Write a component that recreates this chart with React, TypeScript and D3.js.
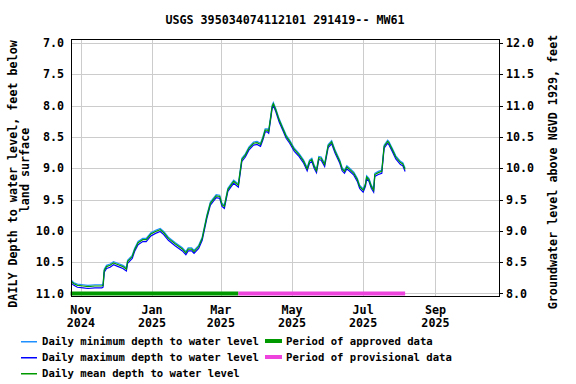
import * as d3 from "d3";

const dates = [
  "2024-10-24", "2024-10-26", "2024-10-29", "2024-11-03", "2024-11-07", "2024-11-13", "2024-11-19", "2024-11-20", "2024-11-21", "2024-11-23", "2024-11-26", "2024-11-29", "2024-12-03", "2024-12-07", "2024-12-10", "2024-12-11", "2024-12-15", "2024-12-17", "2024-12-20", "2024-12-24", "2024-12-27", "2024-12-31",
  "2025-01-04", "2025-01-08", "2025-01-11", "2025-01-15", "2025-01-21", "2025-01-27", "2025-01-30", "2025-02-01", "2025-02-04", "2025-02-06", "2025-02-10", "2025-02-13", "2025-02-17", "2025-02-20", "2025-02-25", "2025-02-28",
  "2025-03-02", "2025-03-04", "2025-03-07", "2025-03-10", "2025-03-12", "2025-03-16", "2025-03-17", "2025-03-19", "2025-03-22", "2025-03-25", "2025-03-29",
  "2025-04-01", "2025-04-04", "2025-04-06", "2025-04-08", "2025-04-10", "2025-04-11", "2025-04-13", "2025-04-14", "2025-04-15", "2025-04-17", "2025-04-20", "2025-04-23", "2025-04-26", "2025-04-29",
  "2025-05-03", "2025-05-07", "2025-05-11", "2025-05-14", "2025-05-16", "2025-05-18", "2025-05-20", "2025-05-22", "2025-05-24", "2025-05-26", "2025-05-29",
  "2025-06-01", "2025-06-04", "2025-06-07", "2025-06-11", "2025-06-13", "2025-06-15", "2025-06-17", "2025-06-19", "2025-06-23", "2025-06-26", "2025-06-28",
  "2025-07-01", "2025-07-03", "2025-07-04", "2025-07-06", "2025-07-08", "2025-07-10", "2025-07-11", "2025-07-14", "2025-07-17", "2025-07-19", "2025-07-22", "2025-07-23", "2025-07-26", "2025-07-29",
  "2025-08-02", "2025-08-04", "2025-08-06",
];

const minDepth = [
  10.79, 10.83, 10.85, 10.86, 10.87, 10.86, 10.86, 10.85, 10.61, 10.55, 10.53, 10.49, 10.52, 10.55, 10.59, 10.47, 10.39, 10.28, 10.17, 10.12, 10.12, 10.03,
  9.99, 9.96, 10.01, 10.1, 10.19, 10.27, 10.33, 10.27, 10.27, 10.31, 10.23, 10.1, 9.75, 9.54, 9.42, 9.43,
  9.56, 9.59, 9.32, 9.24, 9.19, 9.25, 9.11, 8.84, 8.77, 8.66, 8.58,
  8.57, 8.6, 8.5, 8.37, 8.37, 8.39, 8.13, 7.99, 7.95, 8.04, 8.21, 8.34, 8.47, 8.55,
  8.68, 8.76, 8.87, 8.99, 8.87, 8.84, 8.95, 9.02, 8.81, 8.82, 8.92,
  8.62, 8.56, 8.71, 8.87, 8.99, 9.03, 8.96, 8.99, 9.06, 9.16, 9.27,
  9.33, 9.24, 9.12, 9.16, 9.27, 9.33, 9.08, 9.05, 9.03, 8.63, 8.55, 8.57, 8.68, 8.8,
  8.89, 8.91, 9.0,
];

const maxDepth = [
  10.84, 10.87, 10.9, 10.91, 10.92, 10.91, 10.91, 10.9, 10.66, 10.6, 10.58, 10.54, 10.57, 10.6, 10.64, 10.52, 10.44, 10.33, 10.22, 10.17, 10.17, 10.08,
  10.04, 10.01, 10.06, 10.15, 10.24, 10.32, 10.38, 10.32, 10.32, 10.36, 10.28, 10.15, 9.8, 9.59, 9.47, 9.48,
  9.61, 9.64, 9.37, 9.29, 9.24, 9.3, 9.16, 8.89, 8.82, 8.71, 8.63,
  8.62, 8.65, 8.55, 8.42, 8.42, 8.44, 8.18, 8.04, 8.0, 8.09, 8.26, 8.39, 8.52, 8.6,
  8.73, 8.81, 8.92, 9.04, 8.92, 8.89, 9.0, 9.07, 8.86, 8.87, 8.97,
  8.67, 8.61, 8.76, 8.92, 9.04, 9.08, 9.01, 9.04, 9.11, 9.21, 9.32,
  9.38, 9.29, 9.17, 9.21, 9.32, 9.38, 9.13, 9.1, 9.08, 8.68, 8.6, 8.62, 8.73, 8.85,
  8.94, 8.96, 9.05,
];

const meanDepth = [
  10.81, 10.845, 10.87, 10.88, 10.89, 10.88, 10.88, 10.87, 10.63, 10.57, 10.55, 10.51, 10.54, 10.57, 10.61, 10.49, 10.41, 10.3, 10.19, 10.14, 10.14, 10.05,
  10.01, 9.98, 10.03, 10.12, 10.21, 10.29, 10.35, 10.29, 10.29, 10.33, 10.25, 10.12, 9.77, 9.56, 9.44, 9.45,
  9.58, 9.61, 9.34, 9.26, 9.21, 9.27, 9.13, 8.86, 8.79, 8.68, 8.6,
  8.59, 8.62, 8.52, 8.39, 8.39, 8.41, 8.15, 8.01, 7.97, 8.06, 8.23, 8.36, 8.49, 8.57,
  8.7, 8.78, 8.89, 9.01, 8.89, 8.86, 8.97, 9.04, 8.83, 8.84, 8.94,
  8.64, 8.58, 8.73, 8.89, 9.01, 9.05, 8.98, 9.01, 9.08, 9.18, 9.29,
  9.35, 9.26, 9.14, 9.18, 9.29, 9.35, 9.1, 9.07, 9.05, 8.65, 8.57, 8.59, 8.7, 8.82,
  8.91, 8.93, 9.02,
];

const approvedPeriod = ["2024-10-24", "2025-03-16"];
const provisionalPeriod = ["2025-03-16", "2025-08-06"];

const depthTicks = [7.0, 7.5, 8.0, 8.5, 9.0, 9.5, 10.0, 10.5, 11.0];
const elevTicks = [12.0, 11.5, 11.0, 10.5, 10.0, 9.5, 9.0, 8.5, 8.0];
const monthTicks = ["2024-11-01", "2025-01-01", "2025-03-01", "2025-05-01", "2025-07-01", "2025-09-01"];
const monthLabels = [["Nov", "2024"], ["Jan", "2025"], ["Mar", "2025"], ["May", "2025"], ["Jul", "2025"], ["Sep", "2025"]];

const title = "USGS 395034074112101 291419-- MW61";
const leftLabel = ["DAILY Depth to water level, feet below", "land surface"];
const rightLabel = "Groundwater level above NGVD 1929, feet";

const FONT = "'DejaVu Sans Mono', monospace";
const C_MIN = "#1e90ff";
const C_MAX = "#0000ff";
const C_MEAN = "#009900";
const C_APPROVED = "#009900";
const C_PROV = "#ee44dd";

export default function App() {
  const width = 576;
  const height = 384;
  const left = 71, right = 499, top = 39, bottom = 296;

  const parse = d3.timeParse("%Y-%m-%d");
  const x = d3.scaleTime()
    .domain([new Date(2024, 9, 23, 12), new Date(2025, 9, 25, 12)])
    .range([left, right]);
  const y = d3.scaleLinear().domain([6.935, 11.04]).range([top, bottom]);
  const yRight = d3.scaleLinear().domain([12.065, 7.96]).range([top, bottom]);

  const pts = (vals: number[]) => dates.map((d, i) => [x(parse(d)!), y(vals[i])] as [number, number]);
  const line = d3.line();

  const barY = y(11.0);
  const xa = (s: string) => x(parse(s)!);

  const legendLines = [
    { label: "Daily minimum depth to water level", color: C_MIN, ly: 341 },
    { label: "Daily maximum depth to water level", color: C_MAX, ly: 357 },
    { label: "Daily mean depth to water level", color: C_MEAN, ly: 373 },
  ];
  const legendBars = [
    { label: "Period of approved data", color: C_APPROVED, ly: 341 },
    { label: "Period of provisional data", color: C_PROV, ly: 357 },
  ];

  return (
    <svg width={width} height={height} style={{ position: "absolute", left: 0, top: 0, background: "#fff" }}
      fontFamily={FONT} fontWeight="bold">
      <text x={(left + right) / 2} y={24} textAnchor="middle" fontSize={11.7}>{title}</text>

      {/* grid */}
      {depthTicks.map((t) => (
        <line key={"h" + t} x1={left} x2={right} y1={Math.round(y(t)) + 0.5} y2={Math.round(y(t)) + 0.5} stroke="#cccccc" strokeWidth={1} />
      ))}
      {monthTicks.map((m) => (
        <line key={"v" + m} x1={Math.round(xa(m)) + 0.5} x2={Math.round(xa(m)) + 0.5} y1={top} y2={bottom} stroke="#cccccc" strokeWidth={1} />
      ))}

      {/* data */}
      <path d={line(pts(minDepth)) ?? ""} fill="none" stroke={C_MIN} strokeWidth={1.2} />
      <path d={line(pts(maxDepth)) ?? ""} fill="none" stroke={C_MAX} strokeWidth={1.2} />
      <path d={line(pts(meanDepth)) ?? ""} fill="none" stroke={C_MEAN} strokeWidth={1.2} />

      {/* approval periods */}
      <line x1={xa(approvedPeriod[0]) - 1} x2={xa(approvedPeriod[1])} y1={barY} y2={barY} stroke={C_APPROVED} strokeWidth={4} />
      <line x1={xa(provisionalPeriod[0])} x2={xa(provisionalPeriod[1])} y1={barY} y2={barY} stroke={C_PROV} strokeWidth={4} />

      <rect x={left + 0.5} y={top + 0.5} width={right - left} height={bottom - top} fill="none" stroke="#000" strokeWidth={1} />

      {/* left axis */}
      {depthTicks.map((t) => (
        <text key={"l" + t} x={64} y={y(t)} dy="0.35em" textAnchor="end" fontSize={11.7}>{t.toFixed(1)}</text>
      ))}
      {/* right axis */}
      {elevTicks.map((t) => (
        <g key={"r" + t}>
          <line x1={right} x2={right + 4} y1={Math.round(yRight(t)) + 0.5} y2={Math.round(yRight(t)) + 0.5} stroke="#000" />
          <text x={506} y={yRight(t)} dy="0.35em" fontSize={11.7}>{t.toFixed(1)}</text>
        </g>
      ))}
      {/* x axis */}
      {monthTicks.map((m, i) => (
        <g key={"x" + m}>
          <text x={xa(m)} y={314} textAnchor="middle" fontSize={11.7}>{monthLabels[i][0]}</text>
          <text x={xa(m)} y={327} textAnchor="middle" fontSize={11.7}>{monthLabels[i][1]}</text>
        </g>
      ))}

      <text transform="translate(16.5,174) rotate(-90)" textAnchor="middle" fontSize={11.7}>{leftLabel[0]}</text>
      <text transform="translate(28.5,170) rotate(-90)" textAnchor="middle" fontSize={11.7}>{leftLabel[1]}</text>
      <text transform="translate(557,172) rotate(-90)" textAnchor="middle" fontSize={11.7}>{rightLabel}</text>

      {/* legend */}
      {legendLines.map((l) => (
        <g key={l.label}>
          <rect x={21} y={l.ly} width={16} height={1.5} fill={l.color} />
          <text x={42} y={l.ly} dy="0.35em" fontSize={10.6}>{l.label}</text>
        </g>
      ))}
      {legendBars.map((l) => (
        <g key={l.label}>
          <rect x={265} y={l.ly - 2} width={17} height={4} fill={l.color} />
          <text x={286} y={l.ly} dy="0.35em" fontSize={10.6}>{l.label}</text>
        </g>
      ))}
    </svg>
  );
}
